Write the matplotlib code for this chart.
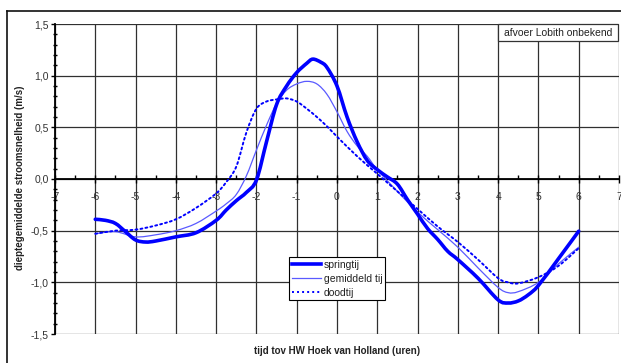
import numpy as np
import matplotlib
matplotlib.use("Agg")
import matplotlib.pyplot as plt
from matplotlib.ticker import MultipleLocator, FuncFormatter
from matplotlib.lines import Line2D
from matplotlib.patches import Rectangle, PathPatch
from matplotlib.path import Path

plt.rcParams['font.family'] = ['Liberation Sans', 'DejaVu Sans']

# ===== data =====
x_spring = [-6, -5.75, -5.5, -5.25, -5, -4.75, -4.5, -4, -3.5, -3, -2.75, -2.5, -2.25, -2,
            -1.75, -1.5, -1.25, -1, -0.75, -0.6, -0.4, -0.25, 0, 0.25, 0.5, 0.75, 1, 1.25,
            1.5, 1.75, 2, 2.25, 2.5, 2.75, 3, 3.5, 4, 4.25, 4.5, 4.75, 5, 5.5, 6]
y_spring = [-0.39, -0.40, -0.43, -0.51, -0.59, -0.61, -0.60, -0.56, -0.52, -0.40, -0.30,
            -0.21, -0.13, -0.01, 0.36, 0.72, 0.90, 1.03, 1.12, 1.16, 1.13, 1.08, 0.90, 0.60,
            0.36, 0.18, 0.09, 0.02, -0.05, -0.20, -0.34, -0.48, -0.585, -0.70, -0.78, -0.96,
            -1.17, -1.20, -1.18, -1.12, -1.03, -0.77, -0.505]

x_gem = [-6, -5.5, -5, -4.5, -4, -3.5, -3, -2.75, -2.5, -2.25, -2, -1.75, -1.5, -1.25, -1,
         -0.75, -0.5, -0.25, 0, 0.25, 0.5, 0.75, 1, 1.5, 2, 2.5, 3, 3.5, 4, 4.25, 4.5, 5,
         5.5, 6]
y_gem = [-0.53, -0.51, -0.56, -0.54, -0.50, -0.43, -0.31, -0.24, -0.15, 0.03, 0.28, 0.52,
         0.73, 0.86, 0.92, 0.945, 0.92, 0.82, 0.65, 0.46, 0.32, 0.22, 0.09, -0.12, -0.32,
         -0.49, -0.66, -0.86, -1.05, -1.10, -1.09, -1.00, -0.82, -0.66]

x_dood = [-6, -5.5, -5, -4.5, -4, -3.5, -3, -2.75, -2.5, -2.25, -2, -1.75, -1.5, -1.25, -1,
          -0.75, -0.5, -0.25, 0, 0.5, 1, 1.5, 2, 2.5, 3, 3.5, 4, 4.25, 4.5, 5, 5.5, 6]
y_dood = [-0.53, -0.50, -0.49, -0.45, -0.39, -0.28, -0.14, -0.03, 0.12, 0.45, 0.68, 0.75,
          0.77, 0.78, 0.75, 0.68, 0.60, 0.51, 0.41, 0.22, 0.05, -0.12, -0.29, -0.46, -0.61,
          -0.78, -0.96, -1.00, -1.01, -0.95, -0.84, -0.67]

labels = ["springtij", "gemiddeld tij", "doodtij"]


def smooth_path(xs, ys):
    # Excel-style smoothed line: cubic bezier through the points (Catmull-Rom tangents)
    p = np.column_stack([xs, ys]).astype(float)
    verts = [p[0]]
    codes = [Path.MOVETO]
    n = len(p)
    for i in range(n - 1):
        p0 = p[i - 1] if i > 0 else p[i]
        p1, p2 = p[i], p[i + 1]
        p3 = p[i + 2] if i + 2 < n else p[i + 1]
        verts += [p1 + (p2 - p0) / 6, p2 - (p3 - p1) / 6, p2]
        codes += [Path.CURVE4] * 3
    return Path(verts, codes)


# ===== figure =====
fig = plt.figure(figsize=(6.21, 3.63), dpi=100)
ax = fig.add_axes([55 / 621, 1 - 334 / 363, 564 / 621, 310 / 363])

styles = [
    dict(color='#0000ff', lw=2.6, ls='-'),
    dict(color='#5a5aff', lw=0.9, ls='-'),
    dict(color='#0000ff', lw=1.4, ls=(0, (1, 1.6))),
]
series = [(x_spring, y_spring), (x_gem, y_gem), (x_dood, y_dood)]
handles = []
for (xs, ys), st, lab, z in zip(series, styles, labels, [5, 4, 4]):
    ax.add_patch(PathPatch(smooth_path(xs, ys), fill=False, edgecolor=st['color'],
                           lw=st['lw'], ls=st['ls'], capstyle='round', zorder=z))
    handles.append(Line2D([], [], color=st['color'], lw=st['lw'], ls=st['ls'], label=lab))

ax.set_xlim(-7, 7)
ax.set_ylim(-1.5, 1.5)

# grid
ax.xaxis.set_major_locator(MultipleLocator(1))
ax.xaxis.set_minor_locator(MultipleLocator(0.5))
ax.yaxis.set_major_locator(MultipleLocator(0.5))
ax.yaxis.set_minor_locator(MultipleLocator(0.1))
ax.grid(True, which='major', color='#303030', lw=0.9)
ax.set_axisbelow(True)

# spines
ax.spines['top'].set_visible(False)
ax.spines['right'].set_visible(False)
ax.spines['bottom'].set_position(('data', 0))
ax.spines['bottom'].set_color('black')
ax.spines['bottom'].set_linewidth(1.3)
ax.spines['left'].set_linewidth(1.3)

comma = FuncFormatter(lambda v, p: ("%.1f" % v).replace('.', ','))
ax.yaxis.set_major_formatter(comma)
ax.xaxis.set_major_formatter(FuncFormatter(lambda v, p: "%d" % round(v)))

ax.tick_params(axis='x', which='major', direction='inout', length=6, width=1,
               labelsize=7.5, pad=6, colors='black', labelcolor='#333333')
ax.tick_params(axis='x', which='minor', direction='in', length=3, width=1)
ax.tick_params(axis='y', which='major', direction='out', length=3, width=1,
               labelsize=7.5, pad=1.5, labelcolor='#333333')
ax.tick_params(axis='y', which='minor', direction='inout', length=3, width=1)

ax.text(0, -1.665, "tijd tov HW Hoek van Holland (uren)", ha='center', va='center',
        fontsize=7, fontweight='bold', color='#222222')
fig.text(20 / 621, 1 - 178 / 363, "dieptegemiddelde stroomsnelheid (m/s)", rotation=90,
         ha='center', va='center', fontsize=7, fontweight='bold', color='#222222')

# legend
leg = ax.legend(handles=handles, loc='upper left', bbox_to_anchor=(0.415, 0.248),
                fontsize=7.5, frameon=True, fancybox=False, framealpha=1,
                edgecolor='black', handlelength=2.8, handletextpad=0.3,
                labelspacing=0.38, borderpad=0.25, borderaxespad=0)
leg.get_frame().set_linewidth(0.8)
for t in leg.get_texts():
    t.set_color('#222222')

# annotation box
ax.add_patch(Rectangle((0.7855, 0.945), 0.2125, 0.055, transform=ax.transAxes,
                       fc='white', ec='#333333', lw=0.9, zorder=6, clip_on=False))
ax.text(0.892, 0.9725, "afvoer Lobith onbekend", transform=ax.transAxes, ha='center',
        va='center', fontsize=7.5, color='#222222', zorder=7)

# outer frame
fig.add_artist(Line2D([7 / 621, 7 / 621], [0, 1 - 11 / 363], color='#111111', lw=1.2))
fig.add_artist(Line2D([7 / 621, 1], [1 - 11 / 363, 1 - 11 / 363], color='#111111', lw=1.2))

fig.savefig("out.png", dpi=100)
